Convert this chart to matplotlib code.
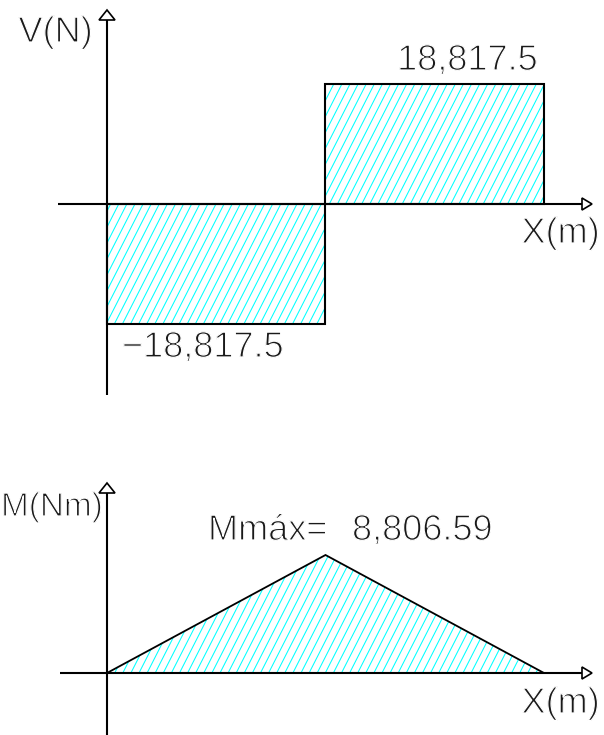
import numpy as np
import matplotlib
matplotlib.use("Agg")
import matplotlib.pyplot as plt
import matplotlib.patheffects as pe
from matplotlib.patches import Polygon
from matplotlib.collections import LineCollection
from matplotlib.transforms import IdentityTransform

# ---------------- data ----------------
x_nodes = [0.0, 0.468, 0.936]          # beam stations (m)
shear_vals = [-18817.5, 18817.5]       # V (N) on each segment
moment_vals = [0.0, 8806.59, 0.0]      # M (Nm) at the stations
v_label = "V(N)"
m_label = "M(Nm)"
x_label = "X(m)"

W, H = 604, 735
fig = plt.figure(figsize=(W / 100, H / 100), dpi=100)
THIN = [pe.Normal(), pe.Stroke(linewidth=0.9, foreground="white")]
FONT = dict(family=["Liberation Sans", "DejaVu Sans"], fontsize=26, color="#1a1a1a")

L = x_nodes[-1]
X0_PX, XL_PX = 107, 544            # pixel columns of x=0 and x=L


def make_axes(top_px, bot_px, zero_px, ref_px, ref_val):
    """Axes spanning pixel rows top_px..bot_px, full width."""
    ax = fig.add_axes([0, 1 - bot_px / H, 1, (bot_px - top_px) / H])
    sx = L / (XL_PX - X0_PX)
    ax.set_xlim(-X0_PX * sx, (W - X0_PX) * sx)
    sy = ref_val / (zero_px - ref_px)
    ax.set_ylim(-(bot_px - zero_px) * sy, (zero_px - top_px) * sy)
    ax.axis("off")
    return ax


def hatch(ax, patch):
    ang = np.deg2rad(63)
    dx = H / np.tan(ang)
    xs = np.arange(-H, W + H, 8.1)
    segs = [[(x, 0), (x + dx, H)] for x in xs]
    lc = LineCollection(segs, colors="#00ffff", linewidths=0.75,
                        transform=IdentityTransform(), zorder=2)
    ax.add_collection(lc)
    lc.set_clip_path(patch)


def axis_arrows(ax, x_left_px, y_top_px, y_bot_px):
    tr = ax.transData
    ox, oy = tr.transform((0, 0))
    k = dict(color="black", lw=1.5, transform=IdentityTransform(), zorder=4,
             solid_capstyle="butt")
    ax.plot([x_left_px, 582], [oy, oy], **k)
    ax.add_patch(Polygon([(582, oy - 6), (582, oy + 6), (592, oy)], closed=True,
                         fill=False, ec="black", lw=1.2, transform=IdentityTransform(), zorder=4))
    ax.plot([ox, ox], [H - y_bot_px, H - y_top_px - 10], **k)
    ax.add_patch(Polygon([(ox - 8, H - y_top_px - 10), (ox + 8, H - y_top_px - 10), (ox, H - y_top_px)],
                         closed=True, fill=False, ec="black", lw=1.2,
                         transform=IdentityTransform(), zorder=4))


# ---------------- shear diagram ----------------
ax1 = make_axes(0, 440, 204, 84, shear_vals[1])
for i, v in enumerate(shear_vals):
    xa, xb = x_nodes[i], x_nodes[i + 1]
    poly = Polygon([(xa, 0), (xa, v), (xb, v), (xb, 0)], closed=True,
                   fill=False, ec="black", lw=1.5, zorder=3)
    ax1.add_patch(poly)
    hatch(ax1, poly)
axis_arrows(ax1, 58, 10, 395)

# ---------------- moment diagram ----------------
ax2 = make_axes(440, 735, 673, 555, moment_vals[1])
tri = Polygon(list(zip(x_nodes, moment_vals)), closed=True,
              fill=False, ec="black", lw=1.3, zorder=3)
ax2.add_patch(tri)
hatch(ax2, tri)
axis_arrows(ax2, 60, 483, 735)


# ---------------- text ----------------
def txt(x, y, s, ha="left", size=None):
    f = dict(FONT)
    if size:
        f["fontsize"] = size
    fig.text(x / W, 1 - y / H, s, ha=ha, va="baseline", path_effects=THIN, **f)


txt(93, 42, v_label, ha="right")
txt(538, 70, f"{shear_vals[1]:,.1f}", ha="right")
txt(122, 357, f"\u2212{abs(shear_vals[0]):,.1f}")
txt(600, 243, x_label, ha="right")
txt(1, 516, m_label, size=24)
txt(208, 540, "Mmáx=")
txt(352, 540, f"{moment_vals[1]:,.2f}")
txt(600, 713, x_label, ha="right")

fig.savefig("out.png", dpi=100)
